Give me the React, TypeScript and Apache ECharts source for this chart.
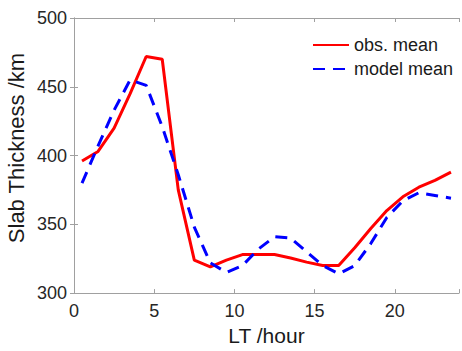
import React, { useEffect, useRef } from "react";
import * as echarts from "echarts";

const hours = [0.5, 1.5, 2.5, 3.5, 4.5, 5.5, 6.5, 7.5, 8.5, 9.5, 10.5, 11.5, 12.5, 13.5, 14.5, 15.5, 16.5, 17.5, 18.5, 19.5, 20.5, 21.5, 22.5, 23.5];
const obsMean = [396, 403, 420, 445, 472, 470, 375, 324, 319, 324, 328, 328, 328, 325.5, 322.5, 320, 320, 333, 347, 360, 370, 377, 382, 388];
const modelMean = [380, 407, 433, 455, 451, 421, 386, 348, 322, 315, 320, 332, 341, 340, 330, 320, 314, 320, 336, 355, 367, 373, 371, 369];
const xTicks = [0, 5, 10, 15, 20];
const seriesNames = ["obs. mean", "model mean"];
const xTitle = "LT /hour";
const yTitle = "Slab Thickness /km";

const FONT = "Liberation Sans, Arial, Helvetica, sans-serif";

export default function App() {
  const ref = useRef<HTMLDivElement>(null);
  useEffect(() => {
    if (!ref.current) return;
    const chart = echarts.init(ref.current, undefined, { renderer: "svg" });
    const axisLine = { show: true, lineStyle: { color: "#a0a0a0", width: 1 } };
    const tick = { show: true, inside: true, length: 4, lineStyle: { color: "#a0a0a0" } };
    chart.setOption({
      animation: false,
      backgroundColor: "#ffffff",
      textStyle: { fontFamily: FONT },
      grid: { left: 74, top: 18, right: -2, bottom: 56, containLabel: false },
      legend: {
        orient: "vertical",
        left: 312,
        top: 36,
        padding: 0,
        itemWidth: 36,
        itemHeight: 14,
        itemGap: 6,
        itemStyle: { opacity: 0 },
        textStyle: { fontSize: 18, color: "#1a1a1a", fontFamily: FONT },
        data: seriesNames,
      },
      xAxis: [
        {
          type: "value",
          min: 0,
          max: 24,
          interval: 5,
          name: xTitle,
          nameLocation: "middle",
          nameGap: 31,
          nameTextStyle: { fontSize: 21, color: "#1a1a1a", fontFamily: FONT },
          axisLine,
          axisTick: tick,
          splitLine: { show: false },
          axisLabel: {
            fontSize: 18,
            color: "#262626",
            margin: 9,
            fontFamily: FONT,
            formatter: (v: number) => (xTicks.includes(v) ? String(v) : ""),
          },
        },
        {
          type: "value",
          position: "top",
          min: 0,
          max: 24,
          interval: 5,
          axisLine,
          axisTick: tick,
          splitLine: { show: false },
          axisLabel: { show: false },
        },
      ],
      yAxis: [
        {
          type: "value",
          min: 300,
          max: 500,
          interval: 50,
          axisLine,
          axisTick: tick,
          splitLine: { show: false },
          axisLabel: { fontSize: 18, color: "#262626", margin: 7, fontFamily: FONT },
        },
        {
          type: "value",
          position: "right",
          min: 300,
          max: 500,
          interval: 50,
          axisLine,
          axisTick: tick,
          splitLine: { show: false },
          axisLabel: { show: false },
        },
      ],
      graphic: [
        {
          type: "text",
          x: 16,
          y: 148,
          rotation: Math.PI / 2,
          style: {
            text: yTitle,
            fontSize: 22,
            fontFamily: FONT,
            fill: "#1a1a1a",
            align: "center",
            verticalAlign: "middle",
          },
        },
      ],
      series: [
        {
          name: seriesNames[0],
          type: "line",
          data: hours.map((h, i) => [h, obsMean[i]]),
          showSymbol: false,
          symbol: "none",
          lineStyle: { color: "#ff0000", width: 3 },
          itemStyle: { color: "#ff0000" },
        },
        {
          name: seriesNames[1],
          type: "line",
          data: hours.map((h, i) => [h, modelMean[i]]),
          showSymbol: false,
          symbol: "none",
          lineStyle: { color: "#0000ff", width: 3, type: [12, 8] },
          itemStyle: { color: "#0000ff" },
        },
      ],
    });
    return () => chart.dispose();
  }, []);
  return (
    <div
      ref={ref}
      style={{ position: "fixed", left: 0, top: 0, width: 462, height: 351, background: "#fff" }}
    />
  );
}
